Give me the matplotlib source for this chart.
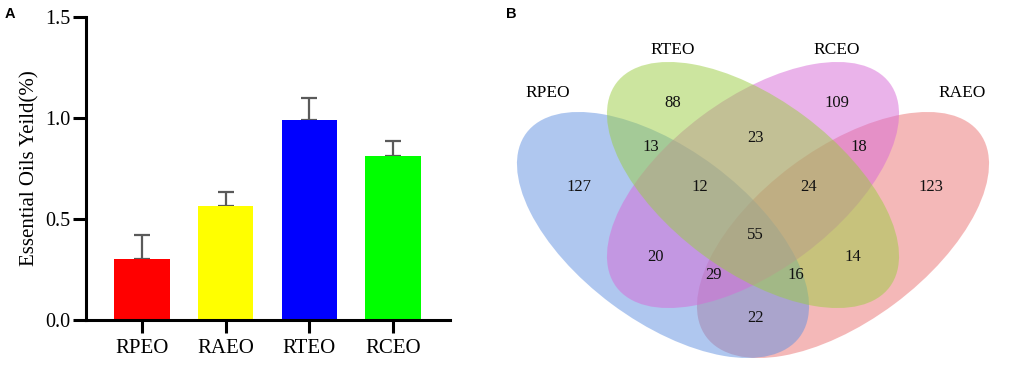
import matplotlib
matplotlib.use("Agg")
import matplotlib.pyplot as plt
from matplotlib.patches import Ellipse

# panel A data
oils = ["RPEO", "RAEO", "RTEO", "RCEO"]
yield_mean = [0.30, 0.566, 0.988, 0.813]
yield_err = [0.12, 0.07, 0.112, 0.074]
bar_colors = ["#ff0000", "#ffff00", "#0000ff", "#00ff00"]

# panel B data (venn region counts)
set_names = ["RPEO", "RTEO", "RCEO", "RAEO"]
region_labels = ["88", "109", "13", "23", "18", "127", "12", "24", "123",
                 "55", "20", "14", "29", "16", "22"]

serif = "Liberation Serif"

fig = plt.figure(figsize=(10.21, 3.67), dpi=100)

# ---- A: bar chart ----
ax = fig.add_axes([86 / 1021, 47 / 367, 364 / 1021, 303 / 367])
x = list(range(len(oils)))
ax.errorbar(x, yield_mean, yerr=[[0] * 4, yield_err], fmt="none",
            ecolor="#5a5a5a", elinewidth=1.6, capsize=6, capthick=1.6, zorder=1)
ax.bar(x, yield_mean, width=0.66, color=bar_colors, edgecolor="none", zorder=2)
ax.set_xlim(-0.67, 3.68)
ax.set_ylim(0, 1.5)
ax.set_yticks([0, 0.5, 1.0, 1.5])
ax.set_yticklabels(["0.0", "0.5", "1.0", "1.5"], family=serif, fontsize=14.5)
ax.set_xticks(x)
ax.set_xticklabels(oils, family=serif, fontsize=15)
ax.set_ylabel("Essential Oils Yeild(%)", family=serif, fontsize=15, labelpad=4)
for s in ["top", "right"]:
    ax.spines[s].set_visible(False)
for s in ["left", "bottom"]:
    ax.spines[s].set_linewidth(2.2)
ax.tick_params(width=2.2, length=9.5)
ax.tick_params(axis="y", pad=2)
ax.tick_params(axis="x", pad=4)
fig.text(5 / 1021, 1 - 18 / 367, "A", family="Liberation Sans",
         fontweight="bold", fontsize=10.5)

# ---- B: venn diagram ----
bx = fig.add_axes([480 / 1021, 0, 541 / 1021, 1])
bx.set_xlim(480, 1021)
bx.set_ylim(367, 0)
bx.axis("off")

ell_w, ell_h, ell_ang = 341, 172, 36.7
# drawing order: RAEO, RPEO, RCEO, RTEO
ellipses = [
    ((843, 235), -ell_ang, "#eb7373"),   # RAEO
    ((663, 235), ell_ang, "#6191e1"),    # RPEO
    ((753, 185), -ell_ang, "#d769d7"),   # RCEO
    ((753, 185), ell_ang, "#9bcd41"),    # RTEO
]
for (cx, cy), ang, col in ellipses:
    bx.add_patch(Ellipse((cx, cy), ell_w, ell_h, angle=ang,
                         facecolor=col, alpha=0.5, edgecolor="none"))

name_pos = [(548, 93), (673, 50), (837, 50), (962, 93)]
for name, (px, py) in zip(set_names, name_pos):
    bx.text(px, py, name, family=serif, fontsize=12.5, ha="center", va="center")

region_pos = [(673, 103), (837, 103), (651, 147), (755, 138), (859, 147),
              (579, 187), (700, 187), (809, 187), (931, 187), (755, 235),
              (656, 257), (853, 257), (713, 275), (796, 275), (755, 318)]
for lab, (px, py) in zip(region_labels, region_pos):
    bx.text(px, py, lab, family=serif, fontsize=12, ha="center",
            va="center", color="#111111")

fig.text(506 / 1021, 1 - 18 / 367, "B", family="Liberation Sans",
         fontweight="bold", fontsize=10.5)

fig.savefig("out.png", dpi=100)
